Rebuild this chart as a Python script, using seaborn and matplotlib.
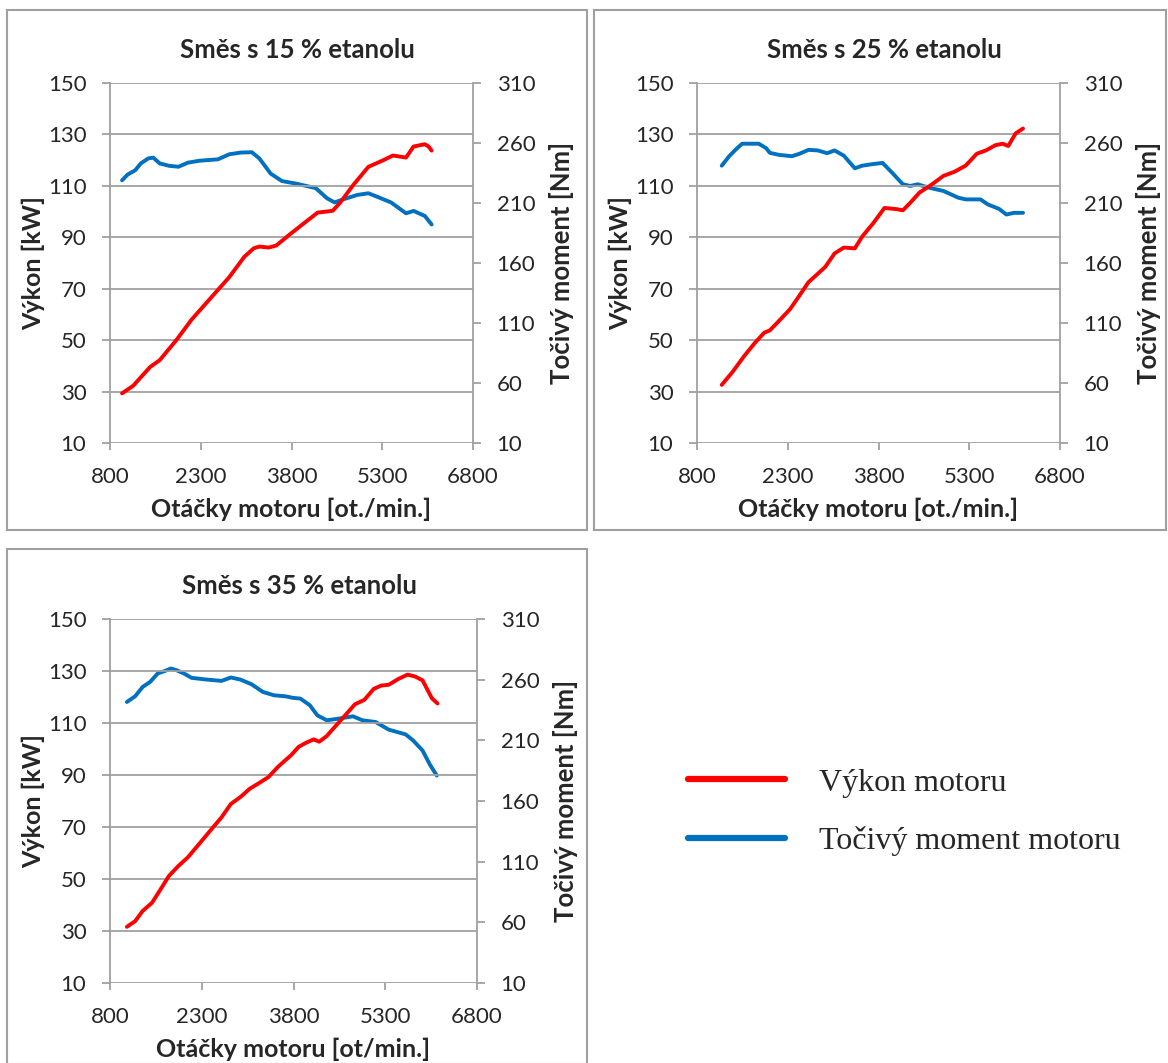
import numpy as np
import pandas as pd
import matplotlib
matplotlib.use("Agg")
import matplotlib.pyplot as plt
import seaborn as sns
from matplotlib.patches import Rectangle

# ---- data ----
# 15 % ethanol
p15_rpm = [999, 1185, 1465, 1621, 1900, 2149, 2522, 2771, 3020, 3175, 3268, 3424, 3548, 3766, 4014,
           4232, 4481, 4605, 4823, 5071, 5196, 5320, 5476, 5693, 5818, 6004, 6066, 6116]
p15_kw = [29.3, 32.3, 39.6, 42.2, 50.1, 58.0, 67.9, 74.5, 82.4, 85.7, 86.4, 86.0, 86.8, 91.0, 95.6,
          99.6, 100.3, 103.5, 110.4, 117.4, 118.7, 120.0, 121.8, 121.0, 125.3, 126.2, 125.3, 123.7]
t15_rpm = [999, 1092, 1217, 1310, 1434, 1515, 1621, 1776, 1932, 2087, 2274, 2585, 2771, 2958, 3144,
           3268, 3455, 3641, 3890, 4201, 4388, 4512, 4636, 4885, 5071, 5196, 5444, 5693, 5818, 6004, 6116]
t15_nm = [228.9, 233.7, 237.3, 243.0, 247.2, 247.8, 243.0, 241.0, 240.2, 243.6, 245.2, 246.4, 250.6, 252.0, 252.3,
          247.2, 234.5, 228.3, 226.0, 222.4, 213.9, 210.5, 212.7, 216.7, 218.1, 215.6, 210.5, 201.4, 203.4, 199.2, 192.1]

# 25 % ethanol
p25_rpm = [1209, 1393, 1576, 1759, 1912, 2004, 2156, 2340, 2492, 2645, 2768, 2921, 3073, 3226, 3409,
           3531, 3714, 3898, 4081, 4203, 4325, 4478, 4661, 4875, 5058, 5242, 5425, 5578, 5731, 5853,
           5945, 6067, 6189]
p25_kw = [32.6, 37.8, 43.7, 49.0, 52.9, 53.8, 57.5, 62.1, 67.3, 72.6, 75.2, 78.5, 83.7, 86.0, 85.7,
          90.3, 95.5, 101.4, 101.0, 100.5, 103.4, 107.4, 110.2, 113.9, 115.5, 117.9, 122.5, 123.8, 125.8, 126.4,
          125.5, 130.4, 132.3]
t25_rpm = [1209, 1332, 1454, 1546, 1698, 1821, 1943, 2004, 2156, 2370, 2492, 2645, 2798, 2951, 3073,
           3226, 3409, 3531, 3714, 3867, 4020, 4203, 4325, 4447, 4631, 4875, 5120, 5242, 5486, 5608,
           5792, 5914, 6036, 6189]
t25_nm = [241.1, 249.0, 255.2, 259.4, 259.4, 259.4, 255.7, 251.8, 250.1, 249.0, 251.0, 254.3, 253.8, 251.5, 253.8,
          249.5, 238.9, 241.1, 242.5, 243.4, 235.5, 225.6, 224.2, 225.6, 222.8, 220.0, 214.4, 213.0, 213.0, 208.8,
          205.1, 200.4, 201.8, 201.8]

# 35 % ethanol
p35_rpm = [1076, 1211, 1334, 1488, 1610, 1764, 1918, 2071, 2255, 2439, 2623, 2777, 2931, 3084, 3237,
           3391, 3545, 3668, 3760, 3883, 4006, 4129, 4221, 4344, 4528, 4651, 4804, 4958, 5111, 5234,
           5357, 5511, 5664, 5787, 5910, 6063, 6155]
p35_kw = [31.6, 33.8, 37.7, 40.9, 45.4, 51.2, 55.0, 58.3, 63.4, 68.6, 73.7, 78.9, 81.5, 84.7, 86.9,
          89.2, 93.1, 95.7, 97.6, 100.8, 102.4, 103.7, 102.8, 105.0, 109.9, 113.1, 117.2, 118.9, 123.1, 124.4,
          124.7, 126.9, 128.6, 127.9, 126.4, 119.5, 117.5]
t35_rpm = [1076, 1211, 1334, 1457, 1580, 1703, 1795, 1887, 2010, 2133, 2378, 2623, 2777, 2931, 3115,
           3299, 3483, 3668, 3791, 3914, 4067, 4190, 4344, 4528, 4774, 4927, 5142, 5357, 5633, 5756,
           5910, 6032, 6143]
t35_nm = [241.6, 246.3, 254.0, 258.2, 265.1, 267.3, 269.2, 267.8, 265.1, 261.5, 260.1, 259.0, 261.8, 260.1, 256.2,
          249.9, 247.1, 246.3, 245.0, 244.4, 238.9, 230.6, 226.5, 227.8, 229.8, 226.5, 225.1, 218.8, 214.9, 209.9,
          201.6, 189.8, 181.0]

titles = ["Směs s 15 % etanolu", "Směs s 25 % etanolu", "Směs s 35 % etanolu"]
xlabels = ["Otáčky motoru [ot./min.]", "Otáčky motoru [ot./min.]", "Otáčky motoru [ot/min.]"]
x_ticks = [800, 2300, 3800, 5300, 6800]
kw_ticks = [10, 30, 50, 70, 90, 110, 130, 150]
nm_ticks = [10, 60, 110, 160, 210, 260, 310]
legend_labels = ["Výkon motoru", "Točivý moment motoru"]

panels = [(p15_rpm, p15_kw, t15_rpm, t15_nm),
          (p25_rpm, p25_kw, t25_rpm, t25_nm),
          (p35_rpm, p35_kw, t35_rpm, t35_nm)]

sns.set_theme(style="white")
plt.rcParams["font.family"] = ["Lato", "DejaVu Sans"]

RED = "#FF0000"
BLUE = "#0070C0"
GRAY = "#A0A0A0"
W, H = 1168, 1063

fig = plt.figure(figsize=(W / 100, H / 100), dpi=100)

# axes boxes in pixels: left, top, right, bottom
boxes = [(110, 83, 473, 443), (697, 83, 1060, 443), (110, 619, 477, 983)]
frames = [(7, 10, 587, 530), (594, 10, 1166, 530), (7, 549, 587, 1064)]

for fx0, fy0, fx1, fy1 in frames:
    fig.patches.append(Rectangle((fx0 / W, 1 - fy1 / H), (fx1 - fx0) / W, (fy1 - fy0) / H,
                                 transform=fig.transFigure, fill=False, edgecolor=GRAY, lw=1.5))

for i, (l, t, r, b) in enumerate(boxes):
    ax = fig.add_axes([l / W, 1 - b / H, (r - l) / W, (b - t) / H])
    ax2 = ax.twinx()
    prpm, pkw, trpm, tnm = panels[i]
    sns.lineplot(x=trpm, y=tnm, ax=ax2, color=BLUE, lw=2.8, label=legend_labels[1], legend=False)
    sns.lineplot(x=prpm, y=pkw, ax=ax, color=RED, lw=2.8, label=legend_labels[0], legend=False)
    ax.set_zorder(ax2.get_zorder() + 1)
    ax.patch.set_visible(False)

    ax.set_xlim(800, 6800)
    ax.set_ylim(10, 150)
    ax2.set_ylim(10, 310)
    ax.set_xticks(x_ticks)
    ax.set_yticks(kw_ticks)
    ax2.set_yticks(nm_ticks)
    ax.yaxis.grid(True, color=GRAY, lw=1.3)
    ax.xaxis.grid(False)
    ax2.grid(False)

    for a in (ax, ax2):
        for s in a.spines.values():
            s.set_visible(False)
    ax.spines["left"].set_visible(True)
    ax.spines["left"].set_color(GRAY)
    ax.spines["left"].set_linewidth(1.3)
    ax2.spines["right"].set_visible(True)
    ax2.spines["right"].set_color(GRAY)
    ax2.spines["right"].set_linewidth(1.3)

    ax.tick_params(axis="y", direction="out", length=6, width=1.3, color=GRAY,
                   labelsize=16, pad=11, left=True)
    ax.tick_params(axis="x", direction="out", length=5, width=1.3, color=GRAY,
                   labelsize=16, pad=12, bottom=True)
    ax2.tick_params(axis="y", direction="out", length=6, width=1.3, color=GRAY,
                    labelsize=16, pad=11, right=True)

    ax.set_title(titles[i], fontsize=18.5, fontweight="bold", pad=18, x=0.515)
    ax.set_xlabel(xlabels[i], fontsize=18, fontweight="bold", labelpad=8)
    ax.set_ylabel("Výkon [kW]", fontsize=18, fontweight="bold", labelpad=2)
    ax2.set_ylabel("Točivý moment [Nm]", fontsize=18.5, fontweight="bold", labelpad=10)

    if i == 0:
        handles = [ax.get_lines()[0], ax2.get_lines()[0]]

leg = fig.legend(handles, legend_labels, loc="center left",
                 bbox_to_anchor=(688 / W, 1 - 812 / H), frameon=False,
                 prop={"family": ["Liberation Serif"], "size": 23},
                 handlelength=3.05, handletextpad=1.05, labelspacing=0.88,
                 borderpad=0, borderaxespad=0)
for h in leg.get_lines():
    h.set_linewidth(4.5)

fig.savefig("out.png", dpi=100)
